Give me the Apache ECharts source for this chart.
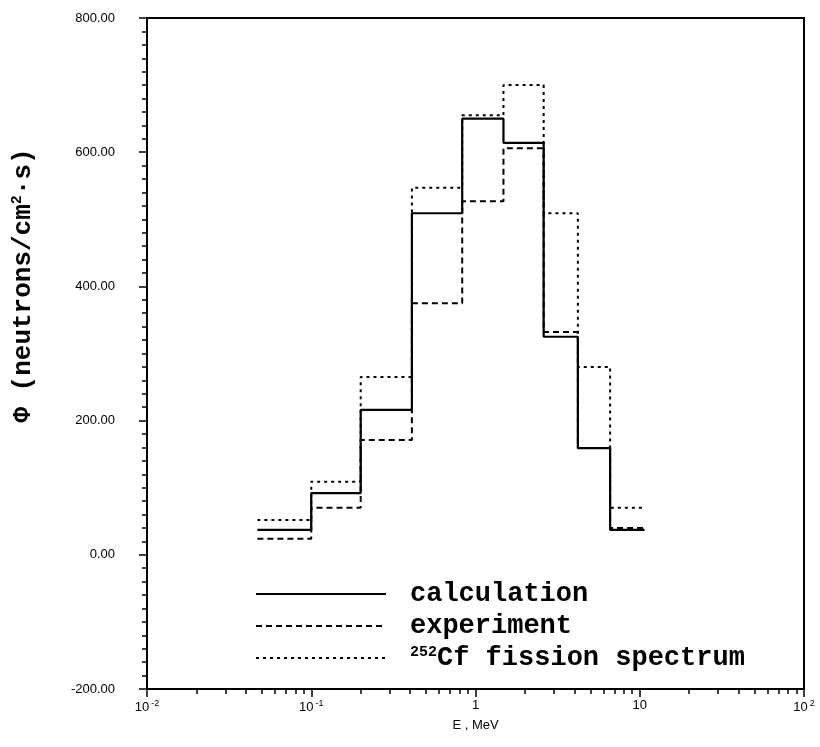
<!DOCTYPE html>
<html>
<head>
<meta charset="utf-8">
<script src="https://cdn.jsdelivr.net/npm/echarts@6/dist/echarts.min.js"></script>
<style>html,body{margin:0;padding:0;background:#fff;} #c{width:820px;height:747px;}</style>
</head>
<body>
<div id="c"></div>
<script>
// Bin edges (MeV) shared by the three histograms
const binEdges = [0.047, 0.1, 0.2, 0.41, 0.83, 1.48, 2.6, 4.2, 6.6, 10.7];
// Flux per bin, neutrons/(cm^2 s)
const calculation = [37, 92, 216, 509, 650, 614, 325, 159, 37];
const experiment  = [24, 70, 171, 375, 527, 606, 332, 159, 40];
const cfSpectrum  = [52, 109, 265, 547, 655, 700, 509, 280, 70];
// Axis ticks
const xMajorTicks = [0.01, 0.1, 1, 10, 100];
const xTickLabels = ['10{s|-2}', '10{s|-1}', '1', '10', '10{s|2}'];
const xMinorTicks = [0.02,0.03,0.04,0.05,0.06,0.07,0.08,0.09,
                     0.2,0.3,0.4,0.5,0.6,0.7,0.8,0.9,
                     2,3,4,5,6,7,8,9,
                     20,30,40,50,60,70,80,90];
const yMin = -200, yMax = 800, yStep = 200;

function steps(vals) {
  const pts = [];
  vals.forEach((v, i) => { pts.push([binEdges[i], v]); pts.push([binEdges[i + 1], v]); });
  return pts;
}

const chart = echarts.init(document.getElementById('c'), null, {renderer: 'canvas'});
const labelFont = 'Liberation Sans';
const monoFont = 'Liberation Mono';

chart.setOption({
  animation: false,
  backgroundColor: '#fff',
  grid: {left: 147, right: 16, top: 18, bottom: 58, show: true, borderColor: '#000', borderWidth: 2, backgroundColor: 'transparent'},
  legend: {
    orient: 'vertical', left: 250, top: 574, itemWidth: 130, itemHeight: 14, itemGap: 2,
    itemStyle: {opacity: 0},
    textStyle: {fontFamily: monoFont, fontWeight: 'bold', fontSize: 27, color: '#000', lineHeight: 30, padding: [0,0,0,19],
      rich: {sup: {fontFamily: monoFont, fontWeight: 'bold', fontSize: 15, color: '#000', padding: [0,0,12,0]}}},
    formatter: function (name) { return name === 'Cf' ? '{sup|252}Cf fission spectrum' : name; },
    data: ['calculation', 'experiment', 'Cf']
  },
  xAxis: [{
    type: 'log', logBase: 10, min: 0.01, max: 100,
    name: 'E , MeV', nameLocation: 'middle', nameGap: 28,
    nameTextStyle: {fontFamily: labelFont, fontSize: 13, color: '#000'},
    axisLine: {show: true, onZero: false, lineStyle: {color: '#000', width: 2}},
    axisTick: {show: true, length: 8, lineStyle: {color: '#000', width: 1.5}},
    minorTick: {show: false},
    splitLine: {show: false},
    axisLabel: {
      margin: 10, color: '#000', fontFamily: labelFont, fontSize: 13,
      formatter: function (v) { const i = xMajorTicks.findIndex(t => Math.abs(Math.log10(t) - Math.log10(v)) < 1e-6); return i >= 0 ? xTickLabels[i] : ''; },
      rich: {s: {fontFamily: labelFont, fontSize: 9, color: '#000', padding: [0,0,8,2]}}
    }
  }, {
    type: 'log', logBase: 10, min: 0.01, max: 100, position: 'bottom', gridIndex: 0,
    axisLine: {show: false, onZero: false}, splitLine: {show: false},
    axisTick: {show: true, length: 5, customValues: xMinorTicks, lineStyle: {color: '#000', width: 1.5}},
    axisLabel: {show: false}
  }],
  yAxis: {
    type: 'value', min: yMin, max: yMax, interval: yStep,
    name: 'Φ (neutrons/cm{sup|2}·s)', nameLocation: 'middle', nameGap: 110, nameRotate: 90,
    nameTextStyle: {fontFamily: monoFont, fontWeight: 'bold', fontSize: 26, color: '#000', padding: [0,0,0,136],
      rich: {sup: {fontFamily: monoFont, fontWeight: 'bold', fontSize: 15, color: '#000', padding: [0,0,12,0]}}},
    axisLine: {show: true, lineStyle: {color: '#000', width: 2}},
    axisTick: {show: true, length: 8, lineStyle: {color: '#000', width: 1.5}},
    minorTick: {show: true, splitNumber: 10, length: 5, lineStyle: {color: '#000', width: 1.5}},
    splitLine: {show: false},
    axisLabel: {margin: 32, color: '#000', fontFamily: labelFont, fontSize: 13, formatter: v => v.toFixed(2)}
  },
  series: [
    {name: 'calculation', type: 'line', data: steps(calculation), symbol: 'none', xAxisIndex: 0,
     lineStyle: {color: '#000', width: 2.2, type: 'solid'}, itemStyle: {color: '#000'}},
    {name: 'experiment', type: 'line', data: steps(experiment), symbol: 'none', xAxisIndex: 0,
     lineStyle: {color: '#000', width: 2, type: [6, 4]}, itemStyle: {color: '#000'}},
    {name: 'Cf', type: 'line', data: steps(cfSpectrum), symbol: 'none', xAxisIndex: 0,
     lineStyle: {color: '#000', width: 2, type: [3, 4]}, itemStyle: {color: '#000'}}
  ]
});
</script>
</body>
</html>
